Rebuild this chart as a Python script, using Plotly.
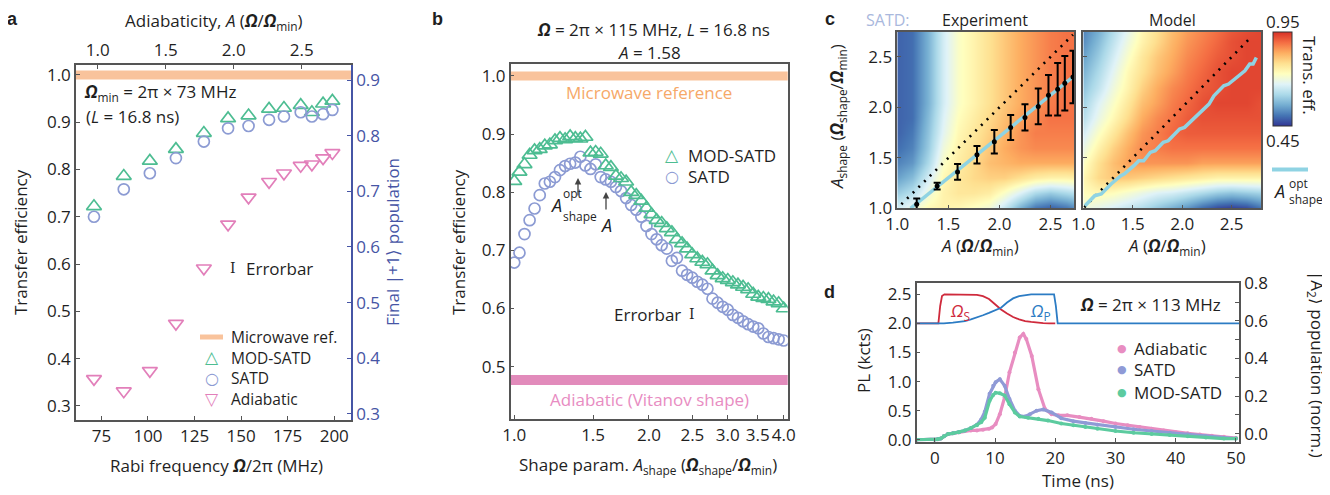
import plotly.graph_objects as go

# The page body keeps its default 8 px margin, so the figure is drawn 8 px in from the
# window's top-left corner; the figure is sized to fill the rest of the 1330x495 window.
OFF = 8
W, H = 1330 - OFF, 495 - OFF
FONT = "Open Sans"
TXT = "#1f1f1f"
AXC = "#555555"
GREEN = "#4dbd92"
LAV = "#8c9bd3"
PINK = "#e27fba"
ORANGE_BAND = "#f9c39c"
ORANGE_TXT = "#f6a868"
PINK_BAND = "#e28bbb"
PINK_TXT = "#e88cc2"
BLUE_AX = "#4655a5"
CYAN = "#8fd3e3"
RED_P = "#cf2a3c"
BLUE_P = "#2c7cc4"
SATD_LABEL = "#a9b8dd"
D_PINK, D_LAV, D_GREEN = "#e88dc1", "#8f9ad6", "#5ccb9f"

# ---------------- panel a data ----------------
rabi_freq_mhz = [71, 87, 101, 115, 130, 143, 154, 165, 173, 182, 188, 194, 199]
a_mod_satd = [0.722, 0.786, 0.818, 0.843, 0.877, 0.908, 0.914, 0.928, 0.930, 0.936, 0.921, 0.939, 0.945]
a_satd = [0.700, 0.758, 0.792, 0.824, 0.859, 0.887, 0.892, 0.905, 0.912, 0.921, 0.912, 0.917, 0.926]
a_adiabatic = [0.357, 0.331, 0.374, 0.474, 0.591, 0.684, 0.741, 0.774, 0.792, 0.808, 0.811, 0.824, 0.835]
microwave_ref = 1.0
a_bottom_ticks = [75, 100, 125, 150, 175, 200]
a_top_ticks = [1.0, 1.5, 2.0, 2.5]
a_left_ticks = [0.3, 0.4, 0.5, 0.6, 0.7, 0.8, 0.9, 1.0]
a_right_ticks = [0.3, 0.4, 0.5, 0.6, 0.7, 0.8, 0.9]

# ---------------- panel b data ----------------
b_shape_param = [1.000, 1.027, 1.054, 1.082, 1.110, 1.140, 1.170, 1.201, 1.233, 1.265,
                 1.299, 1.333, 1.369, 1.405, 1.442, 1.480, 1.520, 1.560, 1.601, 1.644,
                 1.687, 1.732, 1.778, 1.825, 1.873, 1.923, 1.974, 2.026, 2.080, 2.135,
                 2.192, 2.250, 2.309, 2.371, 2.433, 2.498, 2.564, 2.632, 2.702, 2.773,
                 2.847, 2.922, 3.000, 3.079, 3.161, 3.245, 3.331, 3.419, 3.509, 3.602,
                 3.698, 3.796, 3.897, 4.000]
b_mod_satd = [0.819, 0.835, 0.848, 0.864, 0.872, 0.874, 0.880, 0.882, 0.889, 0.893,
              0.891, 0.896, 0.893, 0.892, 0.895, 0.868, 0.869, 0.866, 0.846, 0.843,
              0.828, 0.824, 0.818, 0.800, 0.795, 0.785, 0.773, 0.762, 0.752, 0.747,
              0.738, 0.731, 0.719, 0.712, 0.703, 0.693, 0.686, 0.680, 0.676, 0.665,
              0.657, 0.652, 0.649, 0.645, 0.641, 0.637, 0.633, 0.625, 0.620, 0.618,
              0.616, 0.612, 0.609, 0.600]
b_satd = [0.679, 0.696, 0.728, 0.752, 0.772, 0.795, 0.815, 0.818, 0.826, 0.838,
          0.845, 0.849, 0.851, 0.861, 0.846, 0.840, 0.848, 0.826, 0.822, 0.818,
          0.809, 0.802, 0.790, 0.778, 0.770, 0.758, 0.742, 0.728, 0.719, 0.709,
          0.703, 0.682, 0.687, 0.665, 0.658, 0.653, 0.646, 0.641, 0.634, 0.617,
          0.610, 0.603, 0.598, 0.589, 0.584, 0.578, 0.573, 0.569, 0.566, 0.557,
          0.551, 0.549, 0.547, 0.545]
adiabatic_vitanov = 0.477
b_ticks = [1.0, 1.5, 2.0, 2.5, 3.0, 3.5, 4.0]
b_tick_text = ["1.0", "1.5", "2.0", "2.5", "3.0", "3.5", "4.0"]
b_y_ticks = [0.5, 0.6, 0.7, 0.8, 0.9, 1.0]

# ---------------- panel c data ----------------
c_grid_A = [1.0, 1.15, 1.3, 1.45, 1.6, 1.75, 1.9, 2.05, 2.2, 2.35, 2.5, 2.65, 2.8]
c_grid_Ashape = [1.0, 1.15, 1.3, 1.45, 1.6, 1.75, 1.9, 2.05, 2.2, 2.35, 2.5, 2.65, 2.8]
c_experiment = [
    [0.66, 0.70, 0.74, 0.75, 0.74, 0.72, 0.70, 0.64, 0.56, 0.50, 0.48, 0.50, 0.54],
    [0.60, 0.63, 0.70, 0.75, 0.77, 0.77, 0.76, 0.72, 0.67, 0.62, 0.60, 0.62, 0.64],
    [0.55, 0.58, 0.66, 0.74, 0.77, 0.79, 0.80, 0.80, 0.78, 0.76, 0.75, 0.75, 0.76],
    [0.52, 0.54, 0.62, 0.72, 0.76, 0.79, 0.82, 0.83, 0.84, 0.84, 0.84, 0.84, 0.84],
    [0.50, 0.52, 0.60, 0.70, 0.75, 0.78, 0.81, 0.84, 0.86, 0.87, 0.87, 0.87, 0.87],
    [0.49, 0.51, 0.59, 0.68, 0.74, 0.77, 0.80, 0.83, 0.86, 0.88, 0.88, 0.88, 0.88],
    [0.49, 0.50, 0.58, 0.67, 0.73, 0.76, 0.79, 0.82, 0.85, 0.87, 0.89, 0.89, 0.89],
    [0.49, 0.50, 0.57, 0.66, 0.72, 0.75, 0.78, 0.81, 0.84, 0.86, 0.88, 0.89, 0.89],
    [0.49, 0.50, 0.57, 0.66, 0.72, 0.75, 0.78, 0.81, 0.84, 0.86, 0.88, 0.89, 0.89],
    [0.49, 0.50, 0.57, 0.66, 0.72, 0.75, 0.78, 0.81, 0.84, 0.86, 0.88, 0.89, 0.89],
    [0.49, 0.50, 0.57, 0.66, 0.72, 0.75, 0.78, 0.81, 0.84, 0.86, 0.88, 0.89, 0.89],
    [0.49, 0.50, 0.57, 0.66, 0.72, 0.75, 0.78, 0.81, 0.84, 0.86, 0.88, 0.89, 0.89],
    [0.49, 0.50, 0.57, 0.66, 0.72, 0.75, 0.78, 0.81, 0.84, 0.86, 0.88, 0.89, 0.89],
]
c_model = [
    [0.70, 0.68, 0.66, 0.64, 0.62, 0.59, 0.56, 0.53, 0.49, 0.46, 0.45, 0.46, 0.50],
    [0.73, 0.74, 0.73, 0.71, 0.69, 0.67, 0.66, 0.64, 0.62, 0.60, 0.59, 0.60, 0.61],
    [0.74, 0.79, 0.81, 0.81, 0.80, 0.79, 0.78, 0.77, 0.76, 0.75, 0.75, 0.75, 0.75],
    [0.72, 0.78, 0.82, 0.85, 0.86, 0.86, 0.86, 0.86, 0.85, 0.85, 0.85, 0.85, 0.85],
    [0.69, 0.75, 0.80, 0.84, 0.87, 0.88, 0.89, 0.89, 0.89, 0.89, 0.89, 0.89, 0.89],
    [0.66, 0.72, 0.77, 0.82, 0.86, 0.88, 0.90, 0.91, 0.91, 0.91, 0.91, 0.91, 0.91],
    [0.63, 0.69, 0.74, 0.79, 0.84, 0.87, 0.89, 0.91, 0.92, 0.92, 0.92, 0.92, 0.92],
    [0.61, 0.67, 0.72, 0.77, 0.82, 0.85, 0.88, 0.90, 0.92, 0.93, 0.93, 0.93, 0.92],
    [0.59, 0.64, 0.70, 0.75, 0.80, 0.84, 0.87, 0.89, 0.91, 0.92, 0.93, 0.93, 0.93],
    [0.57, 0.62, 0.68, 0.74, 0.78, 0.82, 0.85, 0.88, 0.90, 0.92, 0.93, 0.93, 0.93],
    [0.55, 0.60, 0.66, 0.72, 0.77, 0.81, 0.84, 0.87, 0.89, 0.91, 0.92, 0.93, 0.93],
    [0.53, 0.58, 0.64, 0.70, 0.75, 0.79, 0.83, 0.86, 0.88, 0.90, 0.92, 0.93, 0.93],
    [0.52, 0.56, 0.62, 0.68, 0.74, 0.78, 0.82, 0.85, 0.87, 0.89, 0.91, 0.92, 0.93],
]
c_opt_A = [1.19, 1.39, 1.59, 1.78, 1.95, 2.11, 2.25, 2.38, 2.48, 2.57, 2.64, 2.72]
c_opt_Ashape = [1.04, 1.22, 1.36, 1.53, 1.66, 1.80, 1.90, 2.01, 2.12, 2.18, 2.24, 2.30]
c_opt_err = [0.056, 0.033, 0.078, 0.087, 0.117, 0.124, 0.13, 0.178, 0.20, 0.26, 0.27, 0.26]
c_fit_A = [1.13, 2.73]
c_fit_Ashape = [1.0, 2.31]
c_model_opt_A = [1.017, 1.116, 1.182, 1.281, 1.380, 1.413, 1.512, 1.561, 1.611, 1.677, 1.727,
                 1.809, 1.858, 1.974, 2.024, 2.238, 2.271, 2.321, 2.420, 2.469, 2.535, 2.634,
                 2.683, 2.717, 2.750]
c_model_opt_Ashape = [1.026, 1.125, 1.142, 1.241, 1.323, 1.340, 1.422, 1.471, 1.471, 1.554, 1.570,
                      1.653, 1.669, 1.785, 1.802, 2.000, 2.033, 2.115, 2.214, 2.231, 2.280, 2.362,
                      2.429, 2.429, 2.495]
c_diag_exp = [1.04, 2.72]
c_diag_model = [1.01, 2.70]
c_ticks = [1.0, 1.5, 2.0, 2.5]
c_zmin, c_zmax = 0.45, 0.95

# ---------------- panel d data ----------------
d_t_adiabatic = [-3, 0, 0.5, 1.0, 1.5, 2.2, 3, 4, 5, 6, 7, 8, 9, 9.5, 10.1, 10.8, 11.6, 12.4, 13.3,
                 14.1, 14.7, 15.2, 16.1, 17.2, 18.3, 19.4, 20.5, 22, 24, 26, 28, 30, 32, 34, 36,
                 38, 40, 42, 44, 46, 48, 50]
d_pl_adiabatic = [0, 0, 0.01, 0.02, 0.06, 0.10, 0.11, 0.13, 0.15, 0.16, 0.16, 0.17, 0.19, 0.21,
                  0.27, 0.44, 0.73, 1.16, 1.50, 1.76, 1.82, 1.73, 1.44, 0.87, 0.53, 0.44, 0.42,
                  0.42, 0.39, 0.36, 0.32, 0.28, 0.25, 0.22, 0.19, 0.16, 0.13, 0.11, 0.09, 0.07,
                  0.05, 0.03]
d_t_satd = [-3, 0, 0.5, 1.0, 1.5, 2.2, 3, 4, 5, 6, 7, 7.7, 8.3, 9.1, 9.7, 10.1, 10.8, 11.6, 12.4,
            13.3, 14.1, 15.0, 15.8, 16.9, 18.0, 19.4, 21, 23, 25, 27, 30, 33, 36, 39, 42, 45, 48, 50]
d_pl_satd = [0, 0, 0.01, 0.02, 0.06, 0.10, 0.11, 0.13, 0.16, 0.20, 0.26, 0.35, 0.48, 0.79, 0.93,
             0.99, 1.04, 0.93, 0.70, 0.50, 0.41, 0.40, 0.44, 0.50, 0.52, 0.47, 0.37, 0.32, 0.29,
             0.26, 0.22, 0.18, 0.15, 0.12, 0.09, 0.06, 0.03, 0.02]
d_t_mod = [-3, 0, 0.5, 1.0, 1.5, 2.2, 3, 4, 5, 6, 7, 7.7, 8.3, 9.1, 9.7, 10.1, 10.8, 11.6, 12.4,
           13.3, 14.1, 15.5, 17.2, 18.8, 21, 23, 25, 27, 30, 33, 36, 39, 42, 45, 48, 50]
d_pl_mod = [0, 0, 0.01, 0.02, 0.06, 0.10, 0.11, 0.13, 0.16, 0.20, 0.25, 0.30, 0.38, 0.67, 0.77,
            0.81, 0.80, 0.76, 0.61, 0.47, 0.40, 0.38, 0.36, 0.33, 0.28, 0.25, 0.22, 0.19, 0.15,
            0.12, 0.10, 0.08, 0.06, 0.04, 0.02, 0.02]
d_t_stokes = [-3, 0.6, 0.9, 1.2, 1.6, 6, 7, 8, 9, 10, 11, 12, 13, 14, 15, 16, 17, 18, 19, 20]
d_stokes = [2.0, 2.0, 2.3, 2.47, 2.5, 2.5, 2.49, 2.47, 2.42, 2.33, 2.24, 2.17, 2.11, 2.07, 2.04,
            2.025, 2.012, 2.005, 2.0, 2.0]
d_t_pump = [-3, 1.5, 3, 5, 6, 7, 8, 9, 10, 11, 12, 13, 14, 15, 16, 19.8, 20.1, 20.4, 51]
d_pump = [2.0, 2.0, 2.015, 2.04, 2.07, 2.1, 2.14, 2.18, 2.22, 2.27, 2.36, 2.43, 2.47, 2.49, 2.5,
          2.5, 2.3, 2.0, 2.0]
d_x_ticks = [0, 10, 20, 30, 40, 50]
d_left_ticks = [0.0, 0.5, 1.0, 1.5, 2.0, 2.5]
d_right_ticks = [0.0, 0.1, 0.2, 0.3, 0.4, 0.5, 0.6, 0.7, 0.8]
d_right_text = ["0.0", "", "0.2", "", "0.4", "", "0.6", "", "0.8"]


def X(p):
    """window pixel -> paper fraction"""
    return (p - OFF) / W


def Y(p):
    return 1 - (p - OFF) / H


def ann(text, x, y, size=17, color=TXT, xanchor="center", yanchor="middle", angle=0,
        family=FONT, pad=1):
    return dict(text=text, x=X(x), y=Y(y), xref="paper", yref="paper", showarrow=False,
                font=dict(size=size, color=color, family=family), borderpad=pad,
                xanchor=xanchor, yanchor=yanchor, textangle=angle)


def top_ann(text, x, size=17, color=TXT, family=FONT):
    return ann(text, x, OFF, size=size, color=color, yanchor="top", family=family, pad=0)


OM = "<b><i>Ω</i></b>"

fig = go.Figure()

# ---- panel a traces ----
fig.add_trace(go.Scatter(x=rabi_freq_mhz, y=a_mod_satd, mode="markers", name="MOD-SATD",
                         marker=dict(symbol="triangle-up-open", size=13, color=GREEN,
                                     line=dict(width=1.7)), xaxis="x", yaxis="y"))
fig.add_trace(go.Scatter(x=rabi_freq_mhz, y=a_satd, mode="markers", name="SATD",
                         marker=dict(symbol="circle-open", size=11, color=LAV, line=dict(width=1.7)),
                         xaxis="x", yaxis="y"))
fig.add_trace(go.Scatter(x=rabi_freq_mhz, y=a_adiabatic, mode="markers", name="Adiabatic",
                         marker=dict(symbol="triangle-down-open", size=13, color=PINK,
                                     line=dict(width=1.7)), xaxis="x", yaxis="y"))
# keep the secondary axes of panel a alive (top A axis, right population axis)
fig.add_trace(go.Scatter(x=[None], y=[None], mode="markers", xaxis="x2", yaxis="y", hoverinfo="skip"))
fig.add_trace(go.Scatter(x=[None], y=[None], mode="markers", xaxis="x", yaxis="y2", hoverinfo="skip"))

# ---- panel b traces ----
fig.add_trace(go.Scatter(x=b_shape_param, y=b_satd, mode="markers", name="SATD",
                         marker=dict(symbol="circle-open", size=11, color=LAV, line=dict(width=1.7)),
                         xaxis="x3", yaxis="y3"))
fig.add_trace(go.Scatter(x=b_shape_param, y=b_mod_satd, mode="markers", name="MOD-SATD",
                         marker=dict(symbol="triangle-up-open", size=13, color=GREEN,
                                     line=dict(width=1.7)), xaxis="x3", yaxis="y3"))

# ---- panel c traces ----
fig.add_trace(go.Heatmap(x=c_grid_A, y=c_grid_Ashape, z=c_experiment, coloraxis="coloraxis",
                         zsmooth="best", xaxis="x4", yaxis="y4"))
fig.add_trace(go.Heatmap(x=c_grid_A, y=c_grid_Ashape, z=c_model, coloraxis="coloraxis",
                         zsmooth="best", xaxis="x5", yaxis="y5"))
fig.add_trace(go.Scatter(x=c_diag_exp, y=c_diag_exp, mode="lines",
                         line=dict(color="black", width=2.6, dash="2px,6px"),
                         xaxis="x4", yaxis="y4"))
fig.add_trace(go.Scatter(x=c_fit_A, y=c_fit_Ashape, mode="lines",
                         line=dict(color=CYAN, width=3.5), xaxis="x4", yaxis="y4"))
fig.add_trace(go.Scatter(x=c_opt_A, y=c_opt_Ashape, mode="markers",
                         marker=dict(color="black", size=5),
                         error_y=dict(type="data", array=c_opt_err, color="black",
                                      thickness=2, width=3.5),
                         xaxis="x4", yaxis="y4"))
fig.add_trace(go.Scatter(x=c_diag_model, y=c_diag_model, mode="lines",
                         line=dict(color="black", width=2.6, dash="2px,6px"),
                         xaxis="x5", yaxis="y5"))
fig.add_trace(go.Scatter(x=c_model_opt_A, y=c_model_opt_Ashape, mode="lines",
                         line=dict(color=CYAN, width=3.5), xaxis="x5", yaxis="y5"))

# ---- panel d traces ----
fig.add_trace(go.Scatter(x=d_t_stokes, y=d_stokes, mode="lines",
                         line=dict(color=RED_P, width=1.8), xaxis="x6", yaxis="y6"))
fig.add_trace(go.Scatter(x=d_t_pump, y=d_pump, mode="lines",
                         line=dict(color=BLUE_P, width=1.8), xaxis="x6", yaxis="y6"))
for tt, vv, col in [(d_t_adiabatic, d_pl_adiabatic, D_PINK),
                    (d_t_satd, d_pl_satd, D_LAV),
                    (d_t_mod, d_pl_mod, D_GREEN)]:
    fig.add_trace(go.Scatter(x=tt, y=vv, mode="lines+markers",
                             line=dict(color=col, width=3.2), marker=dict(color=col, size=4),
                             xaxis="x6", yaxis="y6"))
fig.add_trace(go.Scatter(x=[None], y=[None], mode="markers", xaxis="x6", yaxis="y7", hoverinfo="skip"))

tickfont = dict(size=17, family=FONT, color=TXT)
base = dict(showgrid=False, zeroline=False, showline=True, linecolor=AXC, linewidth=1.5,
            ticks="inside", ticklen=4, tickcolor=AXC, tickwidth=1.3, tickfont=tickfont,
            tickangle=0, automargin=False)

layout = dict(
    width=W, height=H, margin=dict(l=0, r=0, t=0, b=0, autoexpand=False),
    paper_bgcolor="white", plot_bgcolor="rgba(0,0,0,0)", showlegend=False,
    font=dict(family=FONT, size=17, color=TXT),
    # panel a
    xaxis=dict(base, domain=[X(76), X(351)], range=[61.35, 209.0], anchor="y",
               tickvals=a_bottom_ticks),
    xaxis2=dict(base, overlaying="x", side="top", anchor="y", range=[0.840, 2.863],
                tickvals=a_top_ticks, tickformat=".1f"),
    yaxis=dict(base, domain=[Y(420), Y(65)], range=[0.27, 1.021], anchor="x",
               tickvals=a_left_ticks, tickformat=".1f"),
    yaxis2=dict(base, overlaying="y", side="right", anchor="x", range=[0.289, 0.927],
                tickvals=a_right_ticks, tickformat=".1f", linecolor=BLUE_AX, tickcolor=BLUE_AX,
                tickfont=dict(size=17, family=FONT, color=BLUE_AX)),
    # panel b
    xaxis3=dict(base, type="log", domain=[X(510.7), X(787.7)], range=[-0.008, 0.611],
                anchor="y3", tickvals=b_ticks, ticktext=b_tick_text, mirror=True),
    yaxis3=dict(base, domain=[Y(419), Y(64.3)], range=[0.41, 1.02], anchor="x3",
                tickvals=b_y_ticks, tickformat=".1f", mirror=True),
    # panel c
    xaxis4=dict(base, domain=[X(897.3), X(1074)], range=[1.0, 2.73], anchor="y4",
                tickvals=c_ticks, tickformat=".1f", mirror=True),
    yaxis4=dict(base, domain=[Y(208.3), Y(31.7)], range=[1.0, 2.75], anchor="x4",
                tickvals=c_ticks, tickformat=".1f", mirror=True),
    xaxis5=dict(base, domain=[X(1083.3), X(1261.3)], range=[1.0, 2.80], anchor="y5",
                tickvals=c_ticks, tickformat=".1f", mirror=True),
    yaxis5=dict(base, domain=[Y(208.3), Y(31.7)], range=[1.0, 2.75], anchor="x5",
                tickvals=c_ticks, showticklabels=False, mirror=True),
    # panel d
    xaxis6=dict(base, domain=[X(916.7), X(1239)], range=[-3, 50.5], anchor="y6",
                tickvals=d_x_ticks, mirror=True),
    yaxis6=dict(base, domain=[Y(441.5), Y(282.7)], range=[-0.03, 2.70], anchor="x6",
                tickvals=d_left_ticks, tickformat=".1f"),
    yaxis7=dict(base, overlaying="y6", side="right", anchor="x6", range=[-0.041, 0.803],
                tickvals=d_right_ticks, ticktext=d_right_text),
    coloraxis=dict(
        cmin=c_zmin, cmax=c_zmax,
        colorscale=[[0.0, "#313695"], [1 / 9, "#4575b4"], [2 / 9, "#74add1"],
                    [3 / 9, "#abd9e9"], [4 / 9, "#e0f3f8"], [5 / 9, "#ffffbf"],
                    [6 / 9, "#fee090"], [7 / 9, "#fdae61"], [8 / 9, "#f46d43"],
                    [1.0, "#d73027"]],
        colorbar=dict(x=X(1272.7), xanchor="left", xpad=0, y=Y(32.3), yanchor="top",
                      ypad=0, len=94.4, lenmode="pixels", thickness=19,
                      thicknessmode="pixels", outlinewidth=1, outlinecolor="#333",
                      showticklabels=False, ticks=""),
    ),
)

annotations = [
    # panel letters / top row
    top_ann("<b>a</b>", 12, size=18, family="Liberation Sans"),
    top_ann("<b>b</b>", 437, size=18, family="Liberation Sans"),
    top_ann("<b>c</b>", 830, size=18, family="Liberation Sans"),
    ann("<b>d</b>", 829, 292, size=18, family="Liberation Sans"),
    top_ann("SATD:", 888, size=16, color=SATD_LABEL),
    top_ann("Experiment", 985, size=16),
    top_ann("Model", 1172, size=16),
    # panel a
    ann("Adiabaticity, <i>A</i> (" + OM + "/" + OM + "<sub>min</sub>)", 214, 21),
    ann("Transfer efficiency", 20, 242, angle=-90),
    ann("Rabi frequency " + OM + "/2π (MHz)", 216, 465),
    ann("Final |+1⟩ population", 392, 242, angle=-90, color=BLUE_AX),
    ann(OM + "<sub>min</sub> = 2π × 73 MHz", 82, 92, xanchor="left"),
    ann("(<i>L</i> = 16.8 ns)", 84, 117, xanchor="left"),
    ann("I", 233, 268, size=14, family="DejaVu Serif"),
    ann("Errorbar", 244, 268, xanchor="left"),
    # panel a legend
    ann("△", 212, 357, size=17, color=GREEN, family="DejaVu Sans", pad=0),
    ann("○", 212, 378, size=16, color=LAV, family="DejaVu Sans", pad=0),
    ann("▽", 212, 399, size=17, color=PINK, family="DejaVu Sans", pad=0),
    ann("Microwave ref.", 230, 337, size=15.5, xanchor="left", pad=0),
    ann("MOD-SATD", 230, 357.7, size=15.5, xanchor="left", pad=0),
    ann("SATD", 230, 378.4, size=15.5, xanchor="left", pad=0),
    ann("Adiabatic", 230, 399.1, size=15.5, xanchor="left", pad=0),
    # panel b
    ann(OM + " = 2π × 115 MHz, <i>L</i> = 16.8 ns", 653, 29),
    ann("<i>A</i> = 1.58", 649, 52),
    ann("Transfer efficiency", 458, 242, angle=-90),
    ann("Shape param. <i>A</i><sub>shape</sub> (" + OM + "<sub>shape</sub>/" + OM + "<sub>min</sub>)",
        648, 465),
    ann("Microwave reference", 649, 92, color=ORANGE_TXT),
    ann("Adiabatic (Vitanov shape)", 649, 399, color=PINK_TXT),
    ann("Errorbar", 612, 314, xanchor="left"),
    ann("I", 692, 314, size=14, family="DejaVu Serif"),
    ann("<i>A</i>", 556, 205, size=18),
    ann("opt", 561, 193, size=12, xanchor="left"),
    ann("shape", 561, 216, size=12, xanchor="left"),
    ann("<i>A</i>", 606, 225, size=18),
    ann("△", 672, 155, size=17, color=GREEN, family="DejaVu Sans", pad=0),
    ann("○", 672, 176, size=16, color=LAV, family="DejaVu Sans", pad=0),
    ann("MOD-SATD", 687, 155, xanchor="left", pad=0),
    ann("SATD", 687, 176, xanchor="left", pad=0),
    # panel c
    ann("<i>A</i><sub>shape</sub> (" + OM + "<sub>shape</sub>/" + OM + "<sub>min</sub>)",
        838, 117, angle=-90),
    ann("<i>A</i> (" + OM + "/" + OM + "<sub>min</sub>)", 980, 246),
    ann("<i>A</i> (" + OM + "/" + OM + "<sub>min</sub>)", 1167, 246),
    ann("0.95", 1283, 22),
    ann("0.45", 1283, 140),
    ann("Trans. eff.", 1309, 75, angle=90),
    ann("<i>A</i>", 1279, 191, size=18),
    ann("opt", 1287, 183, size=12, xanchor="left"),
    ann("shape", 1287, 199, size=12, xanchor="left"),
    # panel d
    ann("PL (kcts)", 863, 361, angle=-90),
    ann("Time (ns)", 1078, 480),
    ann("|A<sub>2</sub>⟩ population (norm.)", 1317, 364, angle=90),
    ann("<i>Ω</i><sub>S</sub>", 960, 311, color=RED_P),
    ann("<i>Ω</i><sub>P</sub>", 1040, 311, color=BLUE_P),
    ann(OM + " = 2π × 113 MHz", 1150, 304),
    ann("●", 1122, 348, size=11, color=D_PINK, family="DejaVu Sans", pad=0),
    ann("●", 1122, 369, size=11, color=D_LAV, family="DejaVu Sans", pad=0),
    ann("●", 1122, 392, size=11, color=D_GREEN, family="DejaVu Sans", pad=0),
    ann("Adiabatic", 1133, 348, xanchor="left", pad=0),
    ann("SATD", 1133, 369.5, xanchor="left", pad=0),
    ann("MOD-SATD", 1133, 392, xanchor="left", pad=0),
]
# arrows in panel b
for hx, hy, dy in [(578, 178, 19), (606, 192, 19)]:
    annotations.append(dict(text="", x=X(hx), y=Y(hy), xref="paper", yref="paper",
                            showarrow=True, ax=0, ay=dy, arrowhead=2, arrowsize=1,
                            arrowwidth=1.3, arrowcolor="#444"))
layout["annotations"] = annotations

layout["shapes"] = [
    dict(type="line", xref="x domain", x0=0, x1=1, yref="y", y0=microwave_ref, y1=microwave_ref,
         line=dict(color=ORANGE_BAND, width=9), layer="below"),
    dict(type="line", xref="x3 domain", x0=0, x1=1, yref="y3", y0=microwave_ref,
         y1=microwave_ref, line=dict(color=ORANGE_BAND, width=9), layer="below"),
    dict(type="line", xref="x3 domain", x0=0, x1=1, yref="y3", y0=adiabatic_vitanov,
         y1=adiabatic_vitanov, line=dict(color=PINK_BAND, width=10), layer="below"),
    # legend keys drawn as lines
    dict(type="line", xref="paper", yref="paper", x0=X(200), x1=X(223), y0=Y(337),
         y1=Y(337), line=dict(color=ORANGE_BAND, width=5)),
    dict(type="line", xref="paper", yref="paper", x0=X(1272), x1=X(1308), y0=Y(169.5),
         y1=Y(169.5), line=dict(color=CYAN, width=4)),
]

fig.update_layout(**layout)
fig.write_html("out.html")
